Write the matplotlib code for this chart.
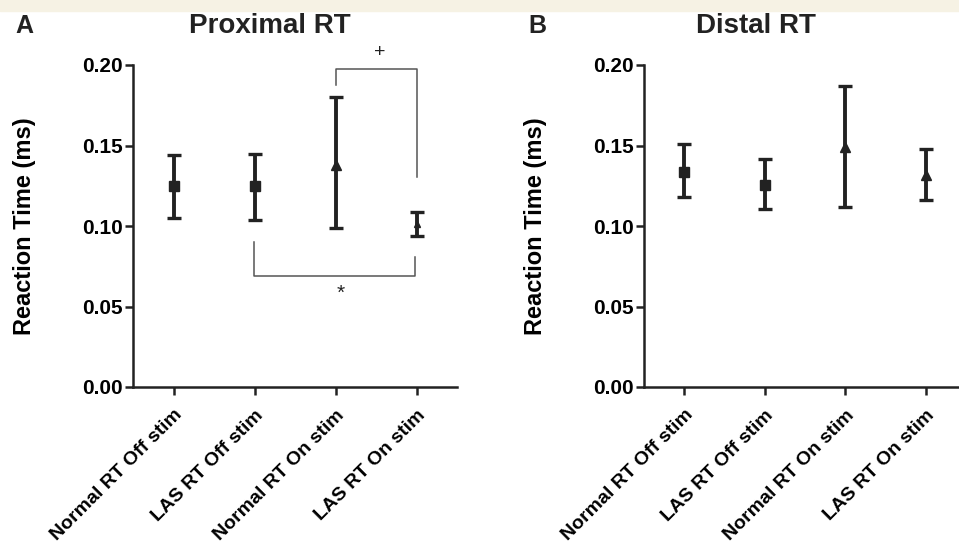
import numpy as np
import matplotlib
matplotlib.use('Agg')
import matplotlib.pyplot as plt
from matplotlib.patches import Rectangle

plt.rcParams['font.family'] = ['Liberation Sans', 'DejaVu Sans']
plt.rcParams['font.weight'] = 'bold'

# data
groups = ['Normal RT Off stim', 'LAS RT Off stim', 'Normal RT On stim', 'LAS RT On stim']
markers = ['s', 's', '^', '^']

prox_mean = [0.125, 0.125, 0.138, 0.101]
prox_low = [0.105, 0.104, 0.099, 0.094]
prox_high = [0.144, 0.145, 0.180, 0.109]

dist_mean = [0.1335, 0.1255, 0.149, 0.1317]
dist_low = [0.118, 0.1106, 0.112, 0.116]
dist_high = [0.151, 0.1416, 0.187, 0.148]

yticks = [0.00, 0.05, 0.10, 0.15, 0.20]

ink = '#222222'

fig = plt.figure(figsize=(9.59, 5.47), dpi=100)
fig.patches.append(Rectangle((0, 1 - 11 / 547), 1, 11 / 547, transform=fig.transFigure,
                             color='#f6f2e4', zorder=0))

ax1 = fig.add_axes([133 / 959, 160 / 547, 324 / 959, 322 / 547])
ax2 = fig.add_axes([644 / 959, 160 / 547, 322 / 959, 322 / 547])


def draw_panel(ax, mean, low, high, title, letter, title_x, letter_x):
    x = np.arange(1, len(mean) + 1)
    for i in range(len(mean)):
        ms = 7 if i != 3 or ax is not ax1 else 4
        ax.errorbar(x[i], mean[i], yerr=[[mean[i] - low[i]], [high[i] - mean[i]]],
                    fmt=markers[i], color=ink, ms=ms, elinewidth=2.8,
                    capsize=4.8, capthick=2.4, zorder=3)
    ax.set_xlim(0.5, 4.5)
    ax.set_ylim(0, 0.2)
    ax.set_yticks(yticks)
    ax.set_yticklabels(['%.2f' % v for v in yticks], fontsize=15, fontweight='bold')
    ax.set_xticks(x)
    ax.set_xticklabels(groups, rotation=45, ha='right', rotation_mode='anchor',
                       fontsize=14, fontweight='bold')
    ax.set_ylabel('Reaction Time (ms)', fontsize=17, fontweight='bold')
    ax.yaxis.set_label_coords(-0.300, 0.5)
    for s in ['top', 'right']:
        ax.spines[s].set_visible(False)
    for s in ['left', 'bottom']:
        ax.spines[s].set_linewidth(1.8)
        ax.spines[s].set_color(ink)
    ax.tick_params(width=1.8, length=6, color=ink, pad=1.5)
    ax.tick_params(axis='x', pad=8)
    ax.spines['left'].set_bounds(0, 0.2)
    fig.text(title_x / 959, 1 - 33 / 547, title, fontsize=20, fontweight='bold',
             ha='center', va='baseline', color=ink)
    fig.text(letter_x / 959, 1 - 33 / 547, letter, fontsize=18, fontweight='bold',
             ha='left', va='baseline', color=ink)


draw_panel(ax1, prox_mean, prox_low, prox_high, 'Proximal RT', 'A', 270, 15)
draw_panel(ax2, dist_mean, dist_low, dist_high, 'Distal RT', 'B', 756, 528)
ax2.spines['bottom'].set_clip_on(False)

# significance brackets
br = '#555555'
ax1.plot([3.01, 3.01, 4.01, 4.01], [0.1876, 0.1975, 0.1975, 0.1304], color=br, lw=1.1, clip_on=False)
ax1.text(3.55, 0.2075, '+', ha='center', va='center', fontsize=14, color=ink, fontweight='normal')
ax1.plot([1.99, 1.99, 3.98, 3.98], [0.0901, 0.0689, 0.0689, 0.0807], color=br, lw=1.1)
ax1.text(3.06, 0.058, '*', ha='center', va='center', fontsize=15, color=ink, fontweight='normal')

fig.savefig('out.png', dpi=100)
